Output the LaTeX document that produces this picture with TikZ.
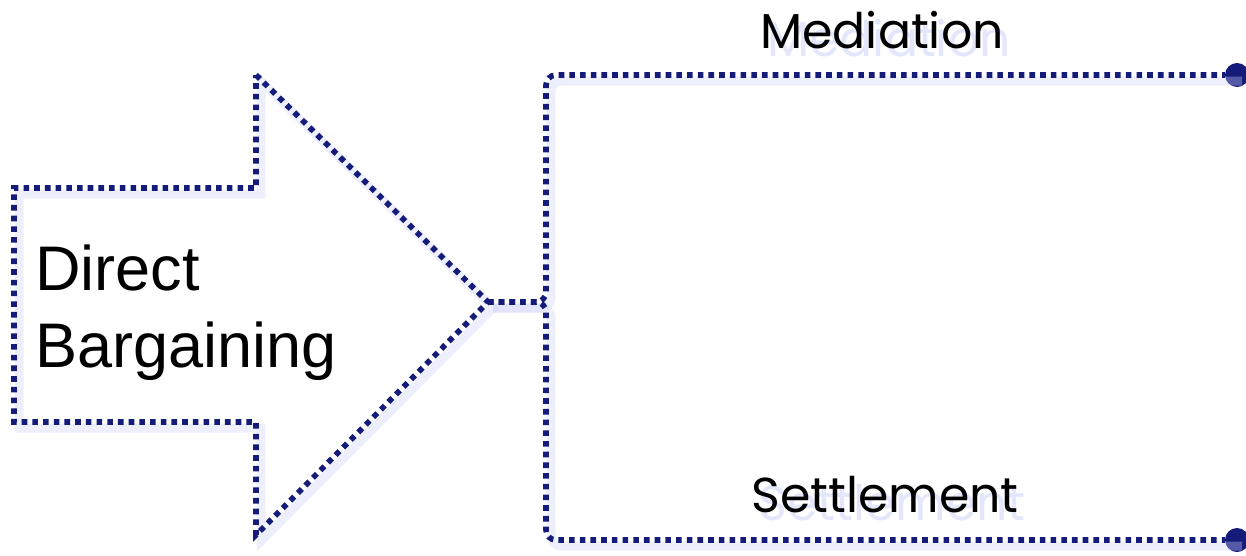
\documentclass[tikz,border=0pt]{standalone}
\usepackage{fontspec}
\setmainfont{Liberation Sans}
\newfontfamily\labelfont{Poppins}
\definecolor{navy}{RGB}{20,27,120}
\definecolor{glow}{RGB}{205,210,250}
\begin{document}
\begin{tikzpicture}[x=1pt,y=-1pt,
  dotline/.style={draw=navy, line width=5.6pt, dash pattern=on 5.6pt off 5.1pt},
  glowline/.style={draw=glow, line width=9pt, opacity=0.35},
  enddot/.style={circle, fill=navy, inner sep=0pt, minimum size=24pt},
  bigtext/.style={anchor=base west, inner sep=0pt, align=left,
    font=\fontsize{63}{77}\selectfont},
  branchtext/.style={anchor=base, inner sep=0pt,
    font=\labelfont\fontsize{49}{52}\selectfont},
  glowtext/.style={text=glow, opacity=0.55}]
\useasboundingbox (0,0) rectangle (1246,555);

% arrow outline and branch geometry
\coordinate (tip) at (488,302);
\coordinate (fork) at (546,302);
\node[enddot] (med) at (1237,75) {};
\node[enddot] (set) at (1237,540) {};

% soft glow under every line
\begin{scope}[shift={(5,6)}]
  \draw[glowline] (256,75) -- (488,302) -- (256,535) -- (256,422)
    -- (14,422) -- (14,188) -- (256,188) -- cycle;
  \draw[glowline, rounded corners=10pt] (488,302) -- (546,302) -- (546,75) -- (1237,75);
  \draw[glowline, rounded corners=10pt] (488,302) -- (546,302) -- (546,540) -- (1237,540);
\end{scope}

% the big arrow
\draw[dotline] (256,75) -- (tip) -- (256,535) -- (256,422)
  -- (14,422) -- (14,188) -- (256,188) -- cycle;

% branches from the tip to the two outcomes
\draw[dotline, rounded corners=10pt] (tip) -- (fork) |- (med);
\draw[dotline, rounded corners=10pt] (tip) -- (fork) |- (set);

% labels with their soft shadows
\node[branchtext, glowtext] (medglow) at (889,56) {Mediation};
\node[branchtext] (medlabel) at (882,48) {Mediation};
\node[branchtext, glowtext] (setglow) at (892,520) {Settlement};
\node[branchtext] (setlabel) at (885,512) {Settlement};
\node[bigtext] (dblabel) at (35,367) {Direct\\Bargaining};
\end{tikzpicture}
\end{document}
